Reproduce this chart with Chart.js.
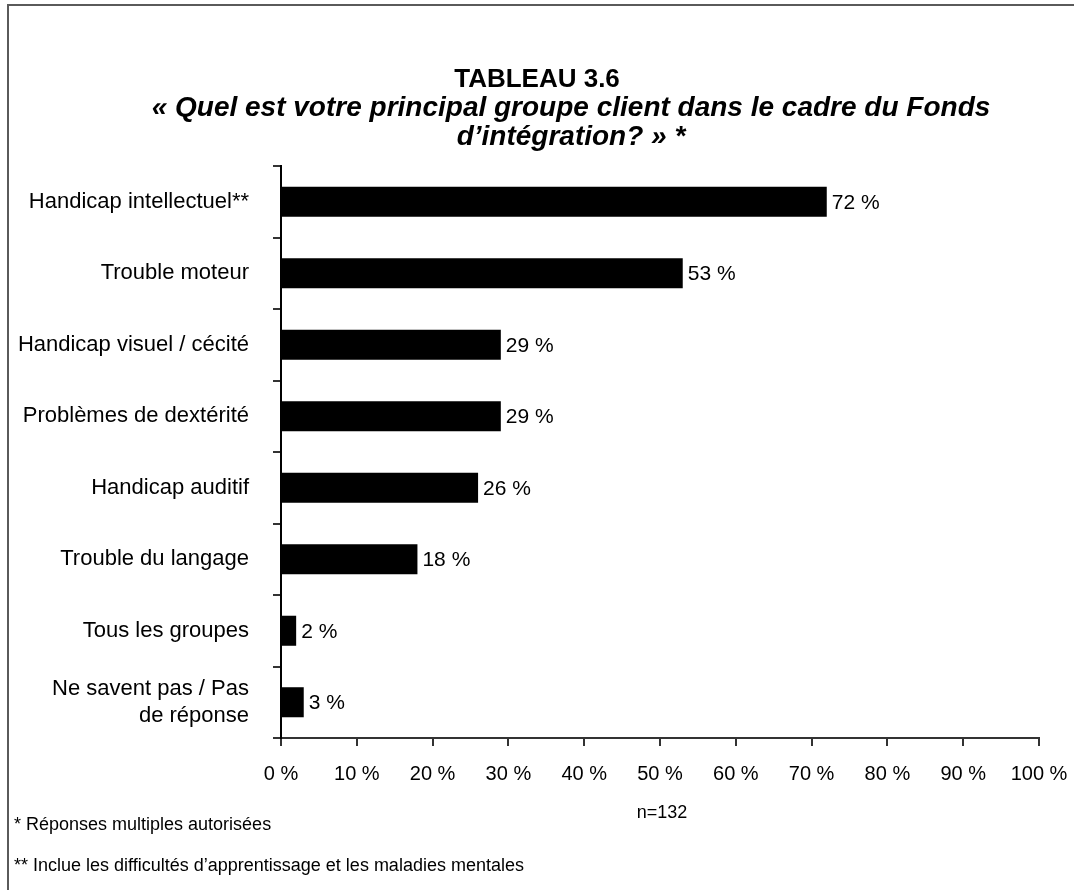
<!DOCTYPE html>
<html lang="fr">
<head>
<meta charset="utf-8">
<title>Tableau 3.6</title>
<script src="https://cdn.jsdelivr.net/npm/chart.js@4.4.1/dist/chart.umd.min.js"></script>
<style>
  html, body { margin: 0; padding: 0; background: #fff; }
  #wrap { width: 1074px; height: 890px; position: relative; }
</style>
</head>
<body>
<div id="wrap"><canvas id="chart"></canvas></div>
<script>
// Tableau 3.6 — groupe client principal (réponses multiples)
const categories = [
  "Handicap intellectuel**",
  "Trouble moteur",
  "Handicap visuel / cécité",
  "Problèmes de dextérité",
  "Handicap auditif",
  "Trouble du langage",
  "Tous les groupes",
  ["Ne savent pas / Pas", "de réponse"],
];
const percents = [72, 53, 29, 29, 26, 18, 2, 3];
const xTicks = [0, 10, 20, 30, 40, 50, 60, 70, 80, 90, 100];

const titleLines = [
  "TABLEAU 3.6",
  "« Quel est votre principal groupe client dans le cadre du Fonds",
  "d’intégration? » *",
];
const sampleNote = "n=132";
const footnotes = [
  "* Réponses multiples autorisées",
  "** Inclue les difficultés d’apprentissage et les maladies mentales",
];

const FONT = "'Liberation Sans', Arial, sans-serif";
const INK = "#000";

// cadre, titres et notes
const decor = {
  id: "decor",
  beforeDraw(chart) {
    const c = chart.ctx;
    c.save();
    c.strokeStyle = "#5a5a5a";
    c.lineWidth = 2;
    c.strokeRect(8, 5, 1200, 1000);
    c.restore();
  },
  afterDraw(chart) {
    const c = chart.ctx;
    c.save();
    c.fillStyle = INK;
    c.textBaseline = "middle";
    c.textAlign = "center";
    c.font = "bold 26px " + FONT;
    c.fillText(titleLines[0], 537, 80);
    c.font = "italic bold 28px " + FONT;
    c.fillText(titleLines[1], 571, 108);
    c.fillText(titleLines[2], 571, 137);

    c.font = "18px " + FONT;
    c.fillText(sampleNote, 662, 813);
    c.textAlign = "left";
    footnotes.forEach((t, i) => c.fillText(t, 14, 825 + i * 41));
    c.restore();
  },
};

// étiquettes de valeur au bout des barres
const valueLabels = {
  id: "valueLabels",
  afterDatasetsDraw(chart) {
    const c = chart.ctx;
    const meta = chart.getDatasetMeta(0);
    c.save();
    c.fillStyle = INK;
    c.font = "21px " + FONT;
    c.textAlign = "left";
    c.textBaseline = "middle";
    meta.data.forEach((bar, i) => {
      c.fillText(percents[i] + " %", bar.x + 5, bar.y + 1);
    });
    c.restore();
  },
};

new Chart(document.getElementById("chart"), {
  type: "bar",
  data: {
    labels: categories,
    datasets: [{
      data: percents,
      backgroundColor: "#000",
      borderWidth: 0,
      categoryPercentage: 1,
      barPercentage: 0.42,
    }],
  },
  options: {
    indexAxis: "y",
    responsive: true,
    maintainAspectRatio: false,
    animation: false,
    layout: { padding: { left: 10, right: 35, top: 166, bottom: 92 } },
    plugins: { legend: { display: false }, tooltip: { enabled: false } },
    scales: {
      x: {
        min: 0,
        max: 100,
        afterFit: (s) => { s.height = 60; s.paddingLeft = 0; s.paddingRight = 0; },
        afterBuildTicks: (s) => { s.ticks = xTicks.map((v) => ({ value: v })); },
        border: { color: "#333", width: 2 },
        grid: { drawOnChartArea: false, tickLength: 8, color: "#333", lineWidth: 2 },
        ticks: {
          color: INK,
          font: { family: FONT, size: 20 },
          padding: 16,
          maxRotation: 0,
          callback: (v) => v + " %",
        },
      },
      y: {
        afterFit: (s) => { s.width = 271; s.paddingTop = 0; s.paddingBottom = 0; },
        border: { color: "#000", width: 2 },
        grid: { drawOnChartArea: false, tickLength: 8, color: "#333", lineWidth: 2, offset: true },
        ticks: {
          color: INK,
          font: { family: FONT, size: 22 },
          padding: 24,
        },
      },
    },
  },
  plugins: [decor, valueLabels],
});
</script>
</body>
</html>
